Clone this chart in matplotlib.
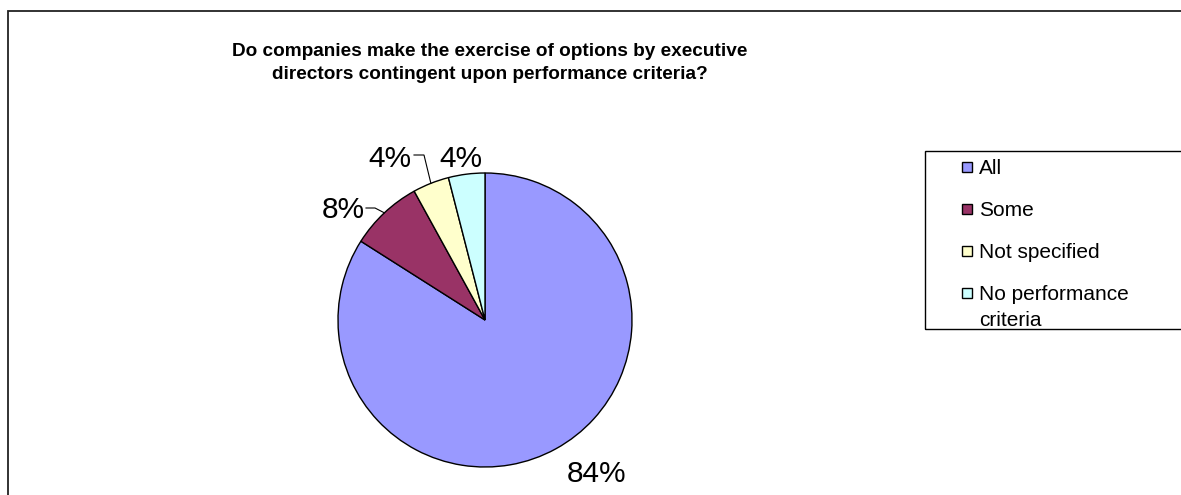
import numpy as np
import matplotlib.pyplot as plt
from matplotlib.patches import Rectangle

plt.rcParams['font.family'] = ['Liberation Sans', 'DejaVu Sans']

# --- data ---
categories = ["All", "Some", "Not specified", "No performance\ncriteria"]
shares = [84, 8, 4, 4]
colors = ["#9999FF", "#993366", "#FFFFCC", "#CCFFFF"]
title = ("Do companies make the exercise of options by executive\n"
         "directors contingent upon performance criteria?")

W, H = 1181, 495
fig = plt.figure(figsize=(W / 100, H / 100), dpi=100)
ax = fig.add_axes([0, 0, 1, 1])

# pixel-like coordinates, y pointing up
CX, CY, R = 485, H - 320, 147
wedges, _ = ax.pie(shares, colors=colors, startangle=90, counterclock=False,
                   center=(CX, CY), radius=R, frame=True,
                   wedgeprops=dict(edgecolor="black", linewidth=1.0))
ax.set_xlim(0, W)
ax.set_ylim(0, H)
ax.set_aspect("equal")
ax.axis("off")

# percentage labels (placed like the spreadsheet does)
label_xy = [(597, 474), (343, 210), (390, 159), (461, 159)]
for val, (lx, ly) in zip(shares, label_xy):
    ax.text(lx, H - ly, f"{val}%", fontsize=21.5, ha="center", va="center")

# leader lines for the small slices with offset labels
leaders = {1: (366, 375, 208), 2: (414, 424, 155)}
for i, (x0, xk, yk) in leaders.items():
    w = wedges[i]
    mid = np.deg2rad((w.theta1 + w.theta2) / 2)
    ex, ey = CX + R * np.cos(mid), CY + R * np.sin(mid)
    ax.plot([x0, xk, ex], [H - yk, H - yk, ey], color="black", lw=0.8,
            solid_joinstyle="miter")

# title
ax.text(490, H - 63, title, fontsize=13.7, fontweight="bold",
        ha="center", va="center", linespacing=1.45)

# outer chart border (runs off the right/bottom edges)
ax.add_patch(Rectangle((8, -10), W + 20, H - 11 + 10, fill=False,
                       edgecolor="#222222", lw=1.3, clip_on=False))

# legend box and entries
ax.add_patch(Rectangle((925, H - 329), W, 178, fill=False,
                       edgecolor="black", lw=1.0, clip_on=False))
y0, step, line_h = 167, 42, 25
for i, (name, c) in enumerate(zip(categories, colors)):
    yc = y0 + i * step
    ax.add_patch(Rectangle((962, H - yc - 5), 10, 10, facecolor=c,
                           edgecolor="black", lw=1.0))
    for j, part in enumerate(name.split("\n")):
        ax.text(979, H - yc - 7.5 - j * line_h, part, fontsize=15,
                ha="left", va="baseline")

fig.savefig("out.png", dpi=100)
